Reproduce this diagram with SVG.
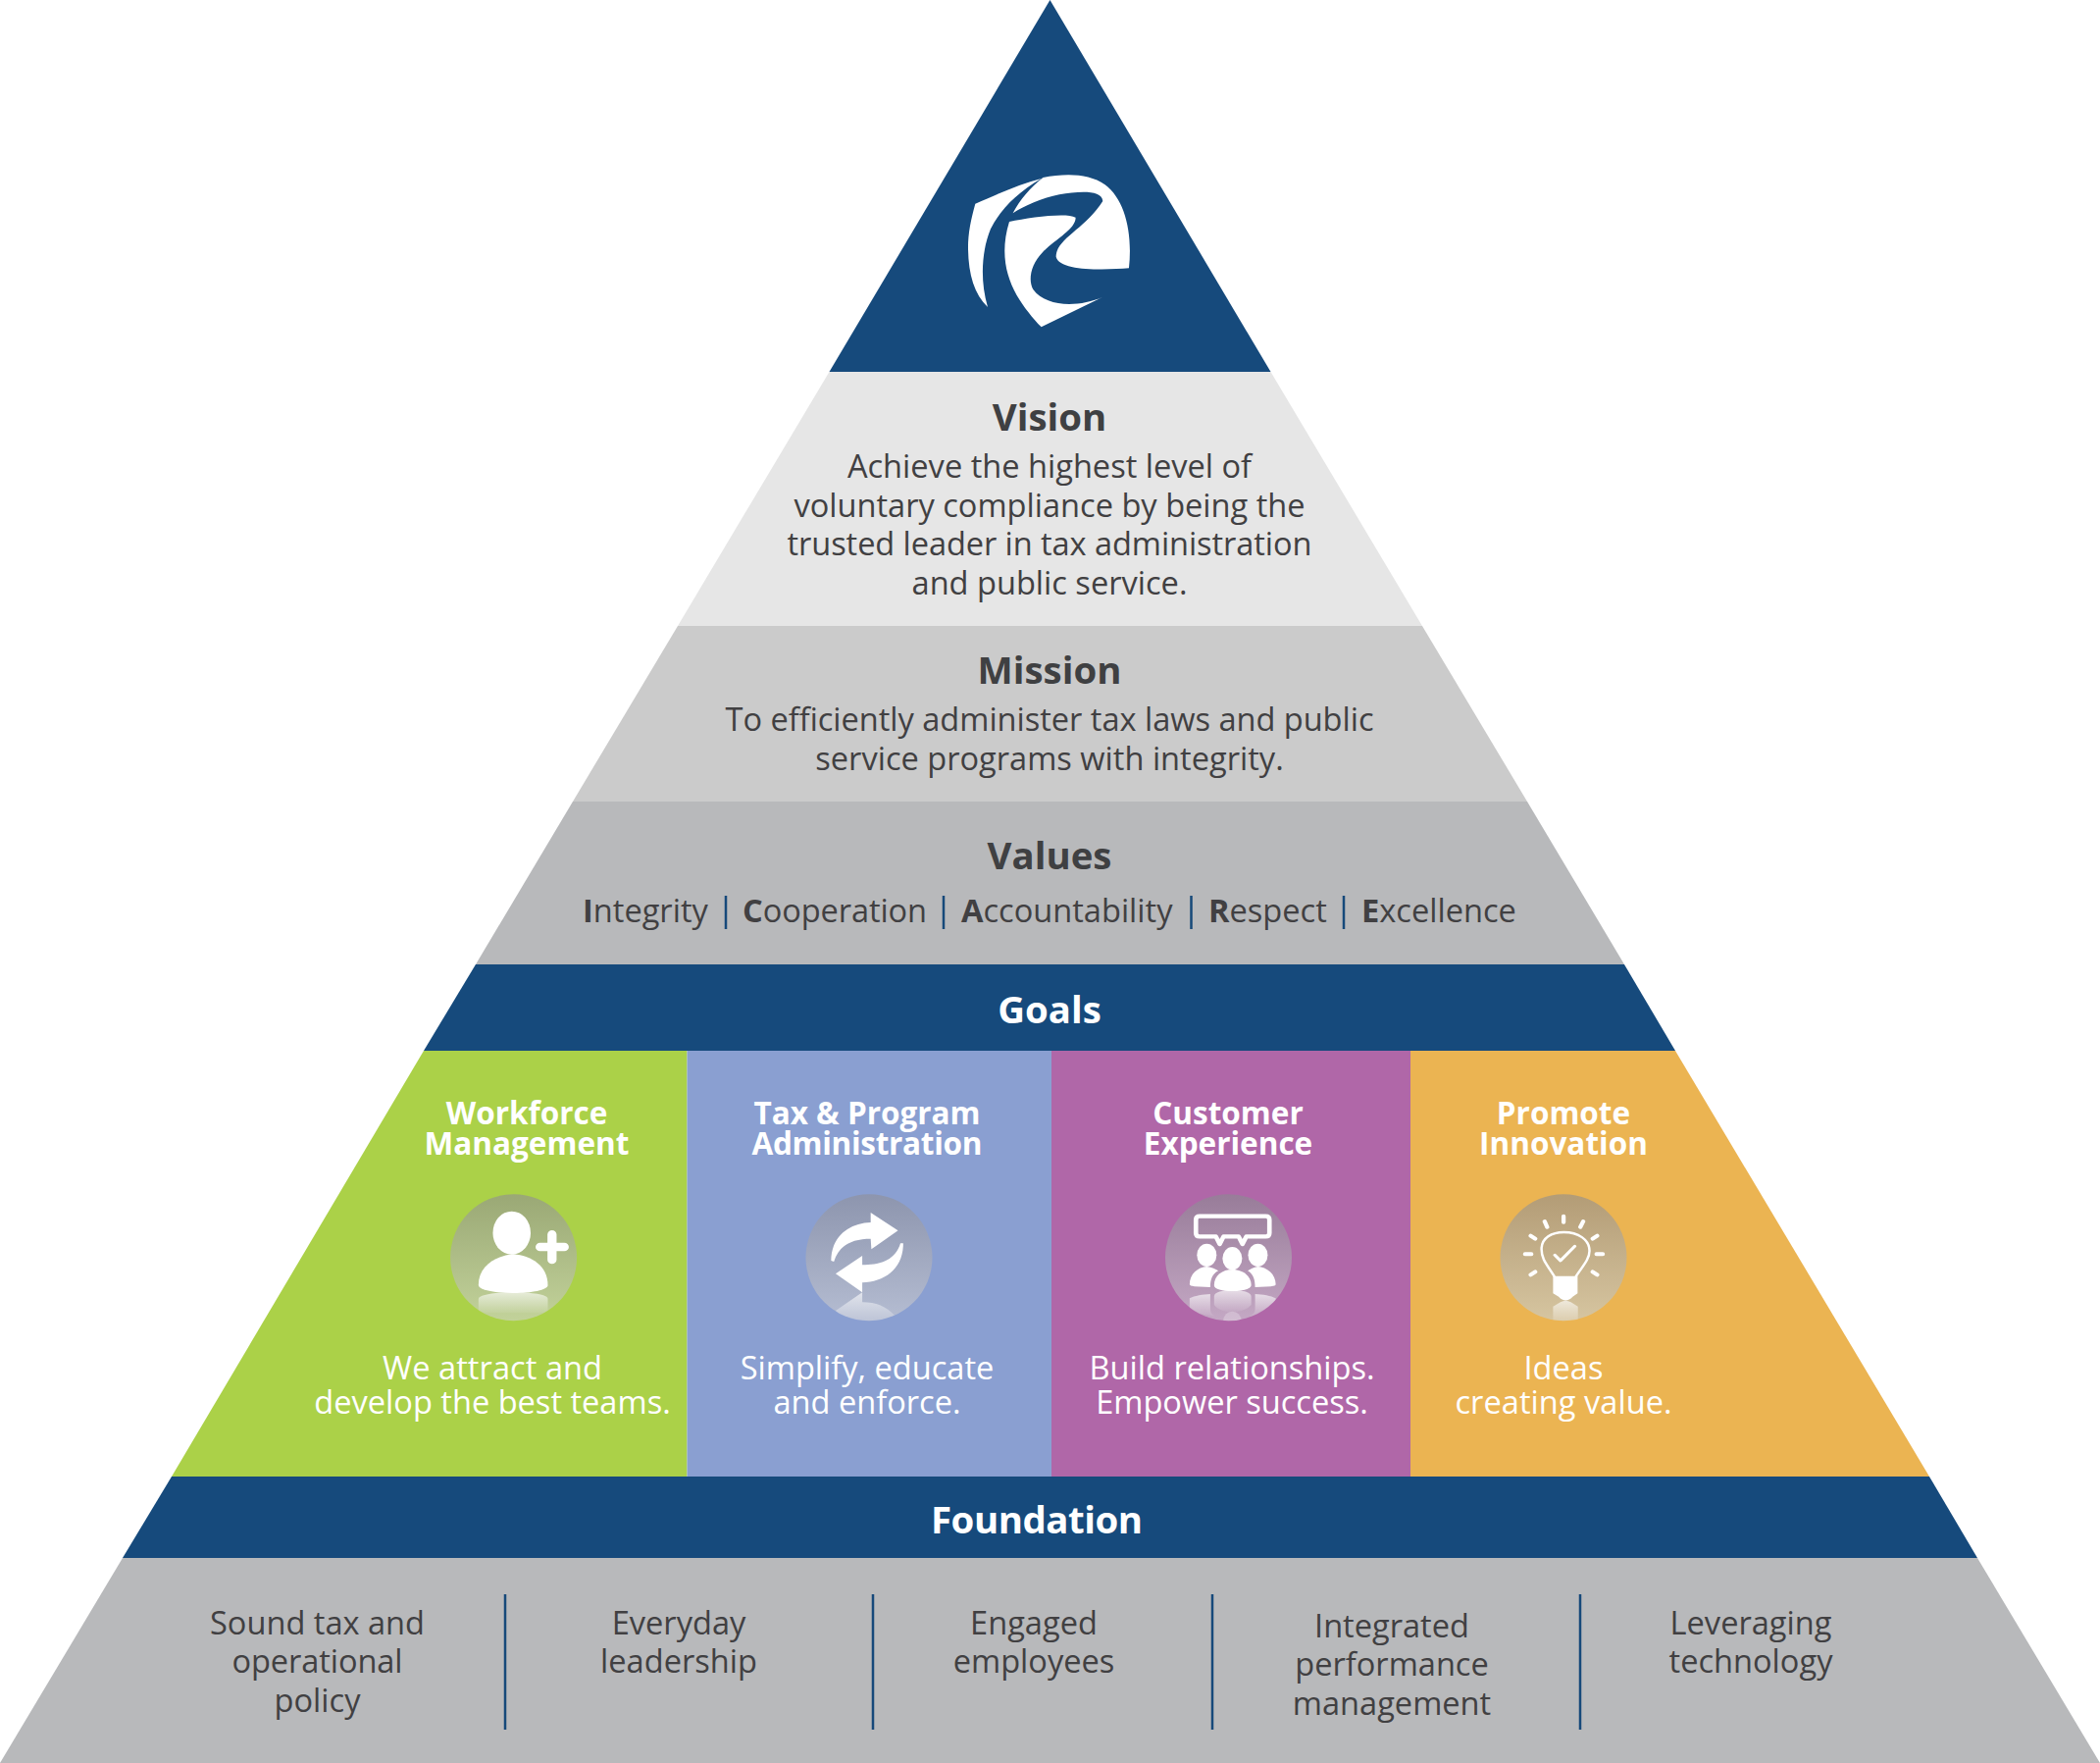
<svg xmlns="http://www.w3.org/2000/svg" width="2141" height="1797" viewBox="0 0 2141 1797">
<style>
text{font-family:"Open Sans","Noto Sans","Liberation Sans",sans-serif;text-anchor:middle}
.h{font-weight:700;font-size:38.400px;fill:#3f4042}
.b{font-size:32.600px;fill:#414042}
.hw{font-weight:700;font-size:38.400px;fill:#fff}
.ch{font-weight:700;font-size:31.500px;fill:#fff}
.cb{font-size:32.600px;fill:#fff}
.v{font-size:32.600px;fill:#414042;text-anchor:start}
.v tspan{font-weight:700}
.f{font-size:32.600px;fill:#414042}
.bar{stroke:#16497a;stroke-width:2.500;fill:none}
.w{fill:#fff}
.wl{fill:none;stroke:#fff;stroke-linecap:round;stroke-linejoin:round}
</style>
<defs>
<linearGradient id="gg" x1="0" y1="0" x2="0" y2="1"><stop offset="0" stop-color="#9aa875"/><stop offset="1" stop-color="#c2d29a"/></linearGradient>
<linearGradient id="gb" x1="0" y1="0" x2="0" y2="1"><stop offset="0" stop-color="#8d95ae"/><stop offset="1" stop-color="#b5bdd2"/></linearGradient>
<linearGradient id="gp" x1="0" y1="0" x2="0" y2="1"><stop offset="0" stop-color="#987c99"/><stop offset="1" stop-color="#c4a8c4"/></linearGradient>
<linearGradient id="go" x1="0" y1="0" x2="0" y2="1"><stop offset="0" stop-color="#b39c76"/><stop offset="1" stop-color="#d6c5a0"/></linearGradient>
<linearGradient id="rf" gradientUnits="objectBoundingBox" x1="0" y1="0" x2="0" y2="1"><stop offset="0" stop-color="#fff" stop-opacity=".65"/><stop offset="1" stop-color="#fff" stop-opacity=".05"/></linearGradient>
<clipPath id="c1"><ellipse cx="290" cy="275" rx="181" ry="194"/></clipPath>
<clipPath id="c2"><ellipse cx="1305" cy="275" rx="181" ry="194"/></clipPath>
<clipPath id="c3"><ellipse cx="287" cy="275" rx="181" ry="194"/></clipPath>
<clipPath id="c4"><ellipse cx="1244" cy="275" rx="181" ry="194"/></clipPath>
</defs>

<g id="apex">
<path d="M1070.500 0L1295.500 379H845.500Z" fill="#164a7c"/>
<g transform="translate(880 130) scale(.3333)" class="w">
<path d="M343 233C420 200 480 172 545 156C470 200 420 250 390 310C365 370 355 460 381 549C340 510 322 450 321 370C321 320 330 280 343 233Z"/>
<path d="M458 262C480 220 510 185 550 153C620 140 690 140 740 175C800 220 825 320 813 430C740 436 600 440 590 395C590 340 680 310 733 225C730 190 660 195 600 205C550 215 490 240 458 262Z"/>
<path d="M447 288C510 275 620 260 650 275C650 310 590 340 550 380C510 420 505 470 520 495C560 550 660 550 733 518L545 610C480 540 400 440 447 288Z"/>
</g>
</g>

<g id="vision">
<path d="M845.500 379H1295.500L1450 638H691Z" fill="#e6e6e6"/>
<text class="h" x="1070" y="439">Vision</text>
<text class="b" x="1070" y="487">Achieve the highest level of</text>
<text class="b" x="1070" y="527">voluntary compliance by being the</text>
<text class="b" x="1070" y="566" textLength="535">trusted leader in tax administration</text>
<text class="b" x="1070" y="606">and public service.</text>
</g>

<g id="mission">
<path d="M691 638H1450L1557 817H584Z" fill="#cbcbcb"/>
<text class="h" x="1070" y="697">Mission</text>
<text class="b" x="1070" y="745" textLength="661">To efficiently administer tax laws and public</text>
<text class="b" x="1070" y="785">service programs with integrity.</text>
</g>

<g id="values">
<path d="M584 817H1557L1656 983H485Z" fill="#b8b9bb"/>
<text class="h" x="1070" y="886">Values</text>
<text class="v" x="594" y="940"><tspan>I</tspan>ntegrity</text>
<text class="v" x="757" y="940" textLength="188"><tspan>C</tspan>ooperation</text>
<text class="v" x="980" y="940"><tspan>A</tspan>ccountability</text>
<text class="v" x="1232" y="940"><tspan>R</tspan>espect</text>
<text class="v" x="1388" y="940"><tspan>E</tspan>xcellence</text>
<path class="bar" d="M740 913V947M962 913V947M1214.500 913V947M1370 913V947"/>
</g>

<g id="goals">
<path d="M485 983H1656L1708 1071H432Z" fill="#164a7c"/>
<text class="hw" x="1070" y="1043">Goals</text>
</g>

<g id="workforce">
<path d="M432 1071H700.500V1505H175Z" fill="#abd148"/>
<text class="ch" x="537" y="1146">Workforce</text>
<text class="ch" x="537" y="1177">Management</text>
<circle cx="523.600" cy="1281.700" r="64.500" fill="url(#gg)"/>
<g transform="translate(420 1190) scale(.357 .3333)">
<g class="w">
<ellipse cx="285" cy="200" rx="54" ry="66"/>
<path d="M190 360C190 300 240 270 290 265C340 270 388 300 388 360C388 375 340 384 290 384C240 384 190 375 190 360Z"/>
</g>
<path class="wl" stroke-width="26" d="M400 205V282M366 243H435"/>
<g clip-path="url(#c1)"><path fill="url(#rf)" d="M190 402C190 388 240 382 290 382C340 382 388 388 388 402V445H190Z"/></g>
</g>
<text class="cb" x="502" y="1406" textLength="224">We attract and</text>
<text class="cb" x="502" y="1441">develop the best teams.</text>
</g>

<g id="tax">
<path d="M700.500 1071H1072V1505H700.500Z" fill="#8a9fd1"/>
<text class="ch" x="884" y="1146">Tax &amp; Program</text>
<text class="ch" x="884" y="1177" textLength="235">Administration</text>
<circle cx="886" cy="1281.700" r="64.500" fill="url(#gb)"/>
<g transform="translate(420 1190) scale(.357 .3333)">
<path class="w" d="M1197 285C1197 210 1250 170 1310 168V138L1388 193L1312 250L1310 218C1260 218 1220 235 1205 288Z"/>
<path class="w" d="M1403 232C1403 310 1350 350 1286 352V382L1210 325L1286 270V298C1335 298 1380 285 1395 232Z"/>
<g clip-path="url(#c2)"><path fill="url(#rf)" d="M1210 438L1286 382V412C1325 412 1355 425 1378 452L1300 480L1230 460Z"/></g>
</g>
<text class="cb" x="884" y="1406">Simplify, educate</text>
<text class="cb" x="884" y="1441">and enforce.</text>
</g>

<g id="customer">
<path d="M1072 1071H1438V1505H1072Z" fill="#b067a8"/>
<text class="ch" x="1252" y="1146">Customer</text>
<text class="ch" x="1252" y="1177">Experience</text>
<circle cx="1252.500" cy="1281.700" r="64.500" fill="url(#gp)"/>
<g transform="translate(1150 1190) scale(.357 .3333)">
<path class="wl" stroke-width="13" d="M205 149H393Q404 149 404 160V200Q404 211 393 211H338L327 234L316 211H273L262 234L251 211H205Q194 211 194 200V160Q194 149 205 149Z"/>
<g class="w">
<ellipse cx="225" cy="268" rx="28" ry="35"/>
<ellipse cx="371" cy="268" rx="28" ry="35"/>
<ellipse cx="298" cy="278" rx="28" ry="35"/>
<path d="M176 358C176 325 200 305 225 303C240 305 250 310 258 316C240 325 235 345 235 366L190 364Q176 362 176 358Z"/>
<path d="M422 358C422 325 396 305 371 303C358 305 350 310 342 316C358 325 363 345 363 366L408 364Q422 362 422 358Z"/>
<path d="M246 360C246 330 270 312 298 312C326 312 352 330 352 360C352 372 325 378 298 378C270 378 246 372 246 360Z"/>
</g>
<g clip-path="url(#c3)">
<path fill="url(#rf)" d="M246 395C246 380 270 376 298 376C326 376 352 380 352 395V420C340 435 320 442 298 442C276 442 256 435 246 420Z"/>
<path fill="url(#rf)" d="M176 400C190 392 215 388 235 387V430C235 445 240 450 250 455L190 445L176 430Z"/>
<path fill="url(#rf)" d="M422 400C408 392 385 388 363 387V430C363 445 358 450 345 455L408 445L422 430Z"/>
<ellipse cx="298" cy="470" rx="26" ry="30" fill="#fff" fill-opacity=".25"/>
</g>
</g>
<text class="cb" x="1256" y="1406">Build relationships.</text>
<text class="cb" x="1256" y="1441">Empower success.</text>
</g>

<g id="innovation">
<path d="M1438 1071H1708L1967 1505H1438Z" fill="#ebb452"/>
<text class="ch" x="1594" y="1146">Promote</text>
<text class="ch" x="1594" y="1177">Innovation</text>
<circle cx="1594" cy="1281.700" r="64.500" fill="url(#go)"/>
<g transform="translate(1150 1190) scale(.357 .3333)">
<path class="wl" stroke-width="7" d="M1217 332C1195 295 1181 280 1181 250C1181 215 1210 198 1245 198C1285 198 1318 220 1318 255C1318 280 1300 300 1280 332"/>
<path class="w" d="M1214 332H1284V385L1270 395Q1250 418 1230 395L1214 385Z"/>
<path class="wl" stroke-width="9" d="M1219 268L1235 285L1276 241"/>
<path class="wl" stroke-width="12" d="M1244 149V167M1190 165L1197 182M1300 165L1292 182M1150 209L1163 218M1340 209L1327 218M1134 265H1152M1338 265H1356M1150 328L1163 319M1340 328L1327 319"/>
<g clip-path="url(#c4)"><path fill="url(#rf)" d="M1214 425L1235 412Q1250 402 1265 412L1285 425V480H1214Z"/></g>
</g>
<text class="cb" x="1594" y="1406">Ideas</text>
<text class="cb" x="1594" y="1441" textLength="221">creating value.</text>
</g>

<g id="foundation">
<path d="M175 1505H1967L2016 1588H125Z" fill="#164a7c"/>
<text class="hw" x="1057" y="1563" textLength="216">Foundation</text>
</g>

<g id="foundation-items">
<path d="M125 1588H2016L2141 1797H0Z" fill="#b8b9bb"/>
<text class="f" x="323.500" y="1666">Sound tax and</text>
<text class="f" x="323.500" y="1705" textLength="174">operational</text>
<text class="f" x="323.500" y="1745">policy</text>
<text class="f" x="692" y="1666">Everyday</text>
<text class="f" x="692" y="1705">leadership</text>
<text class="f" x="1054" y="1666">Engaged</text>
<text class="f" x="1054" y="1705">employees</text>
<text class="f" x="1419" y="1669">Integrated</text>
<text class="f" x="1419" y="1708">performance</text>
<text class="f" x="1419" y="1748">management</text>
<text class="f" x="1785" y="1666">Leveraging</text>
<text class="f" x="1785" y="1705">technology</text>
<path class="bar" d="M515 1625V1763M890 1625V1763M1236 1625V1763M1611 1625V1763"/>
</g>
</svg>
